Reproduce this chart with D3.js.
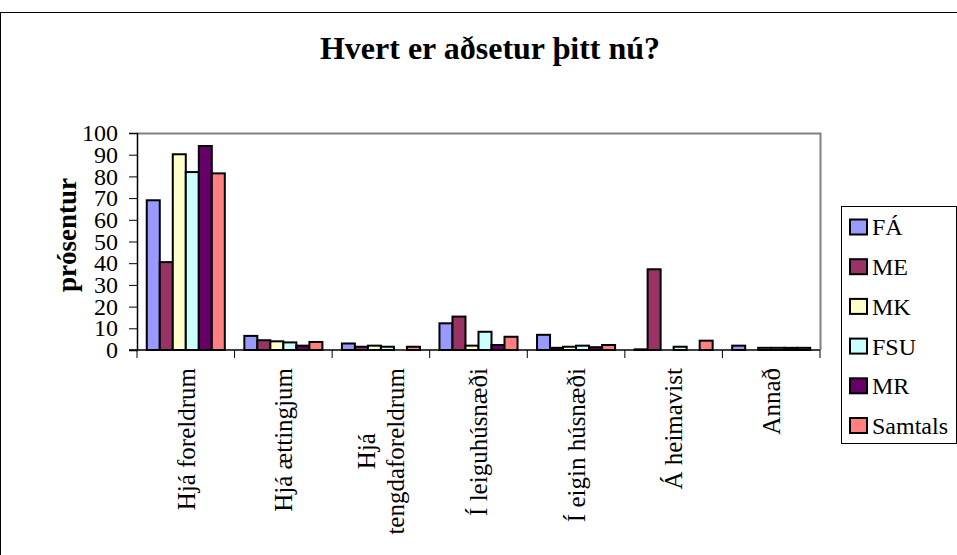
<!DOCTYPE html>
<html>
<head>
<meta charset="utf-8">
<script src="https://cdn.jsdelivr.net/npm/d3@7"></script>
</head>
<body style="margin:0;background:#fff">
<svg width="957" height="555" style="font-family:'Liberation Serif','Times New Roman',serif"></svg>
<script>
    // categories (x axis), each label split into its display lines
    let categories = ["Hjá foreldrum", "Hjá ættingjum", "Hjá tengdaforeldrum", "Í leiguhúsnæði", "Í eigin húsnæði", "Á heimavist", "Annað"];
    let categoryLines = [["Hjá foreldrum"], ["Hjá ættingjum"], ["Hjá", "tengdaforeldrum"], ["Í leiguhúsnæði"], ["Í eigin húsnæði"], ["Á heimavist"], ["Annað"]];

    // series names and colours
    let seriesNames = ["FÁ", "ME", "MK", "FSU", "MR", "Samtals"];
    let seriesColors = ["#9999FF", "#993366", "#FFFFCC", "#CCFFFF", "#660066", "#FF8080"];

    // values per series, in category order (percent)
    let valuesFA = [69, 6.5, 3, 12.3, 7, 0.3, 2];
    let valuesME = [40.5, 4.5, 1.5, 15.4, 1, 37.2, 0];
    let valuesMK = [90.2, 4, 2, 2, 1.5, 0, 1];
    let valuesFSU = [82, 3.5, 1.5, 8.4, 2, 1.5, 1];
    let valuesMR = [94, 2, 0, 2.3, 1.3, 0, 1];
    let valuesSamtals = [81.4, 3.7, 1.5, 6.1, 2.3, 4.3, 1];

    let yTicks = [0, 10, 20, 30, 40, 50, 60, 70, 80, 90, 100];

    let seriesValues = [valuesFA, valuesME, valuesMK, valuesFSU, valuesMR, valuesSamtals];

    let FONT = "'Liberation Serif', 'Times New Roman', serif";
    let svg = d3.select("svg");
    let plot = {left: 137, right: 820, top: 133, bottom: 350};

    // outer chart frame
    svg.append("rect")
        .attr("x", 0.5).attr("y", 12.5)
        .attr("width", 970).attr("height", 570)
        .attr("fill", "none").attr("stroke", "#000").attr("stroke-width", 1);

    // title
    svg.append("text")
        .attr("x", 490).attr("y", 59)
        .attr("text-anchor", "middle")
        .style("font-family", FONT)
        .style("font-size", "32px").style("font-weight", "bold")
        .text("Hvert er aðsetur þitt nú?");

    let x = d3.scaleBand().domain(categories).range([plot.left, plot.right]).paddingInner(0).paddingOuter(0);
    let xInner = d3.scaleBand().domain(seriesNames).range([0, x.bandwidth()]).paddingInner(0).paddingOuter(0.75);
    let y = d3.scaleLinear().domain([0, 100]).range([plot.bottom, plot.top]);

    // plot area border (grey top and right)
    svg.append("path")
        .attr("d", "M" + plot.left + "," + (plot.top + 0.5) + "H" + (plot.right + 0.5) + "V" + plot.bottom)
        .attr("fill", "none").attr("stroke", "#808080").attr("stroke-width", 2);

    // bars, one group per category
    let groups = svg.append("g").selectAll("g")
        .data(categories)
        .enter()
        .append("g")
        .attr("transform", d => "translate(" + x(d) + ",0)");

    groups.selectAll("rect")
        .data((c, ci) => seriesNames.map((s, si) => ({series: s, color: seriesColors[si], value: seriesValues[si][ci]})))
        .enter()
        .filter(d => d.value > 0)
        .append("rect")
        .attr("x", d => xInner(d.series))
        .attr("y", d => y(d.value))
        .attr("width", xInner.bandwidth())
        .attr("height", d => y(0) - y(d.value))
        .attr("fill", d => d.color)
        .attr("stroke", "#000")
        .attr("stroke-width", 2);

    // y axis
    let yAxis = svg.append("g")
        .attr("transform", "translate(" + plot.left + ",0)")
        .call(d3.axisLeft(y).tickValues(yTicks).tickSize(8).tickPadding(11));
    yAxis.attr("font-family", null).attr("font-size", null);
    yAxis.select(".domain").attr("stroke", "#000").attr("stroke-width", 1.5);
    yAxis.selectAll(".tick line").attr("stroke", "#000");
    yAxis.selectAll("text")
        .style("font-family", FONT)
        .style("font-size", "24px").attr("fill", "#000");

    // x axis line and boundary ticks
    svg.append("line")
        .attr("x1", plot.left - 8).attr("x2", plot.right)
        .attr("y1", plot.bottom).attr("y2", plot.bottom)
        .attr("stroke", "#000").attr("stroke-width", 1.5);
    let boundaries = categories.map(c => x(c)).concat([plot.right]);
    svg.append("g").selectAll("line")
        .data(boundaries)
        .enter()
        .append("line")
        .attr("x1", d => d).attr("x2", d => d)
        .attr("y1", plot.bottom).attr("y2", plot.bottom + 8)
        .attr("stroke", "#000");

    // category labels, rotated, multi-line centred
    let catLabels = svg.append("g").selectAll("text")
        .data(categories)
        .enter()
        .append("text")
        .style("font-family", FONT)
        .style("font-size", "25px")
        .attr("transform", d => "translate(" + (x(d) + x.bandwidth() / 2) + "," + (plot.bottom + 18) + ") rotate(-90)");
    catLabels.each(function (d, i) {
        let lines = categoryLines[i];
        let el = d3.select(this);
        let n = lines.length;
        if (n === 1) {
            el.append("tspan").attr("x", 0).attr("dy", "0.35em").attr("text-anchor", "end").text(lines[0]);
        } else {
            // measure longest line to centre the shorter ones
            let tmp = el.append("tspan").text(lines.reduce((a, b) => a.length > b.length ? a : b));
            let w = tmp.node().getComputedTextLength();
            tmp.remove();
            lines.forEach((line, li) => {
                el.append("tspan")
                    .attr("x", -w / 2)
                    .attr("y", (li - (n - 1) / 2) * 29)
                    .attr("dy", "0.35em")
                    .attr("text-anchor", "middle")
                    .text(line);
            });
        }
    });

    // y axis title
    svg.append("text")
        .attr("transform", "translate(76,235) rotate(-90)")
        .attr("text-anchor", "middle")
        .style("font-family", FONT)
        .style("font-size", "27px").style("font-weight", "bold")
        .text("prósentur");

    // legend
    let legend = svg.append("g").attr("transform", "translate(841,206)");
    legend.append("rect")
        .attr("x", 0.5).attr("y", 0.5)
        .attr("width", 115).attr("height", 237)
        .attr("fill", "#fff").attr("stroke", "#000").attr("stroke-width", 1);
    let items = legend.selectAll("g.item")
        .data(seriesNames)
        .enter()
        .append("g")
        .attr("class", "item")
        .attr("transform", (d, i) => "translate(0," + (21 + i * 39.7) + ")");
    items.append("rect")
        .attr("x", 9).attr("y", -7.5)
        .attr("width", 17).attr("height", 15)
        .attr("fill", (d, i) => seriesColors[i])
        .attr("stroke", "#000").attr("stroke-width", 2);
    items.append("text")
        .attr("x", 31).attr("dy", "0.35em")
        .style("font-family", FONT)
        .style("font-size", "24px")
        .text(d => d);
</script>
</body>
</html>
